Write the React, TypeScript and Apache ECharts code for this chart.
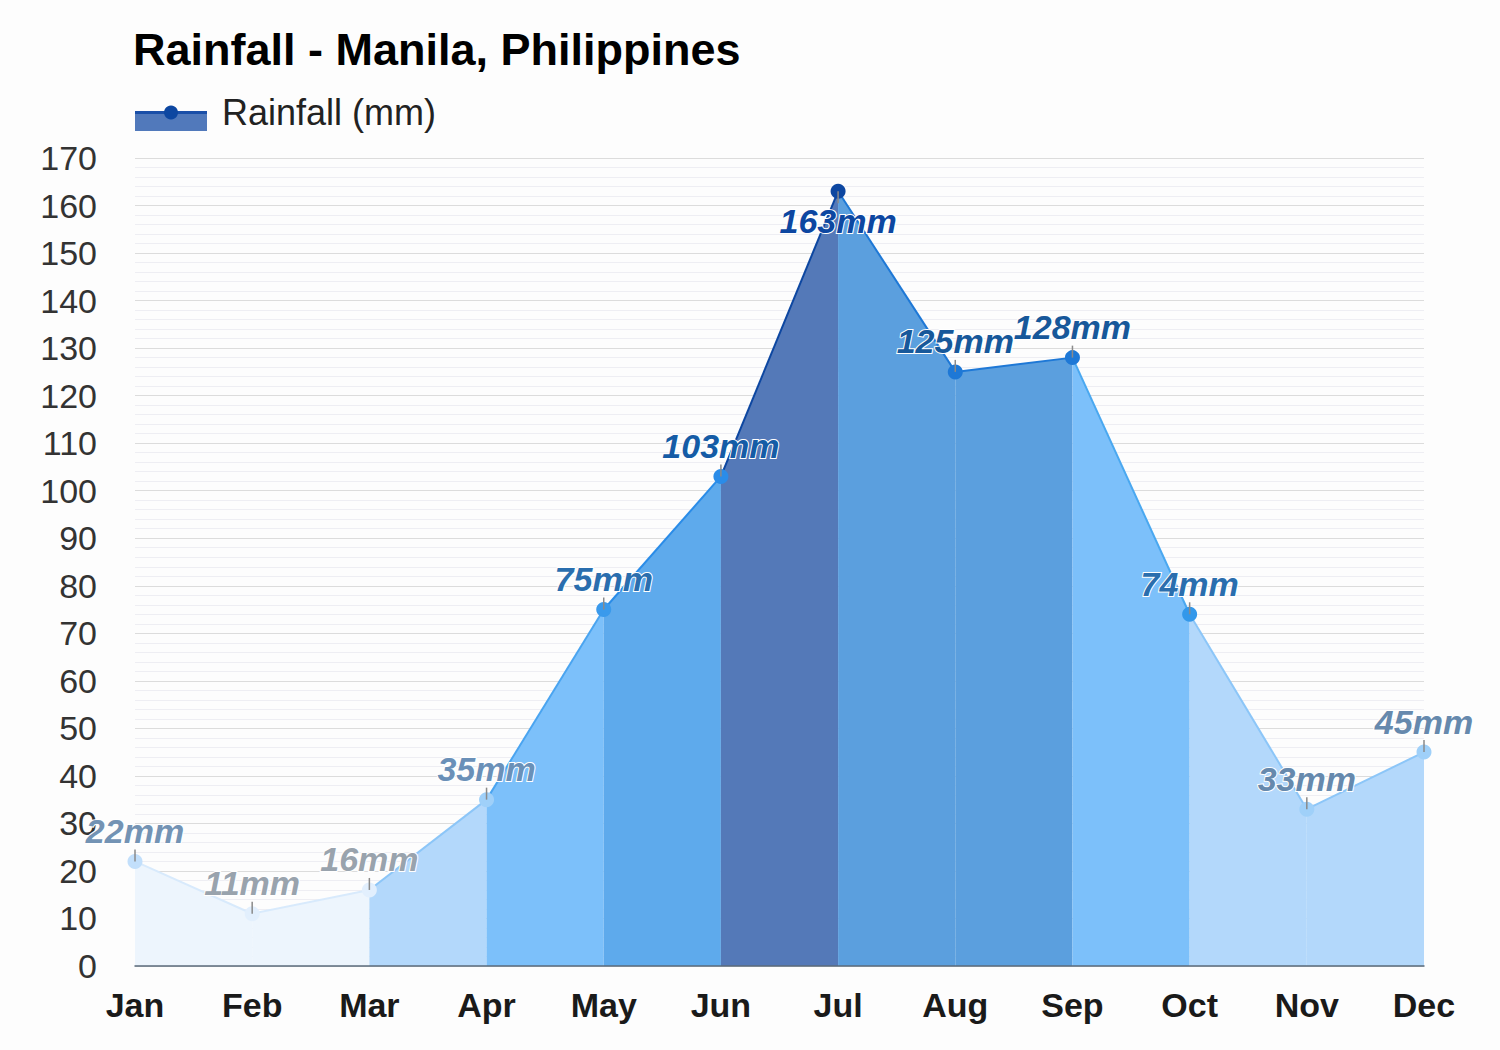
import React, { useEffect, useRef } from "react";
import * as echarts from "echarts";

const months = ["Jan", "Feb", "Mar", "Apr", "May", "Jun", "Jul", "Aug", "Sep", "Oct", "Nov", "Dec"];
const rainfall = [22, 11, 16, 35, 75, 103, 163, 125, 128, 74, 33, 45];
const pointColors = ["#c2dffb", "#e2effd", "#e2effd", "#9fd0f9", "#3a9aec", "#2a8ce8", "#0d47a1", "#1e78d6", "#1e78d6", "#3398ea", "#9fd0f9", "#9fd0f9"];
const labelColors = ["#7393b4", "#99a3ad", "#99a3ad", "#6a90b8", "#2a6eae", "#155ca6", "#0d47a1", "#17589a", "#17589a", "#2a6eae", "#6689ad", "#6689ad"];
// fill of the area segment that ends at each month (index 0 unused)
const segmentFills = ["", "#edf5fd", "#edf5fd", "#b3d8fb", "#7cc0fa", "#5eaaec", "#5479b8", "#5b9fde", "#5b9fde", "#7cc0fa", "#b3d8fb", "#b3d8fb"];
const segmentLines = ["", "#d8eafc", "#d8eafc", "#8cc6f8", "#4aa4f0", "#2a8ce8", "#0d47a1", "#1e78d6", "#1e78d6", "#4aa8f0", "#8cc6f8", "#8cc6f8"];
const yTicks = { min: 0, max: 170, interval: 10 };

const FONT = "Liberation Sans, Arial, sans-serif";

export default function App() {
  const ref = useRef<HTMLDivElement>(null);
  useEffect(() => {
    document.body.style.margin = "0";
    if (!ref.current) return;
    const chart = echarts.init(ref.current, undefined, { renderer: "svg" });
    const maxVal = Math.max(...rainfall);

    const segSeries: any[] = [];
    for (let i = 1; i < rainfall.length; i++) {
      const d = rainfall.map((v, j) => (j === i - 1 || j === i ? v : "-"));
      segSeries.push({
        type: "line",
        data: d,
        symbol: "none",
        silent: true,
        z: 2,
        lineStyle: { color: segmentLines[i], width: 2 },
        areaStyle: { color: segmentFills[i], opacity: 1 },
      });
    }

    const pointData = rainfall.map((v, i) => {
      const below = v === maxVal;
      return {
        value: v,
        itemStyle: { color: pointColors[i], opacity: 1 },
        label: {
          show: true,
          position: below ? "bottom" : "top",
          distance: below ? 5 : 6,
          formatter: v + "mm",
          color: labelColors[i],
          opacity: 1,
          fontSize: 34,
          fontWeight: "bold",
          fontStyle: "italic",
          fontFamily: FONT,
          textBorderColor: "#ffffff",
          textBorderWidth: 2,
        },
      };
    });

    const tickData = rainfall.map((v) => ({
      value: v,
      symbolOffset: [0, v === maxVal ? 6 : -6],
    }));

    chart.setOption({
      animation: false,
      backgroundColor: "#fdfdfd",
      title: {
        text: "Rainfall - Manila, Philippines",
        left: 128,
        top: 22,
        textStyle: { fontSize: 45, fontWeight: "bold", color: "#000", fontFamily: FONT },
      },
      graphic: [
        { type: "rect", shape: { x: 135, y: 113, width: 72, height: 18 }, style: { fill: "#5179bb" } },
        { type: "line", shape: { x1: 135, y1: 112.5, x2: 207, y2: 112.5 }, style: { stroke: "#1a4fa8", lineWidth: 3 } },
        { type: "circle", shape: { cx: 171, cy: 112.5, r: 7 }, style: { fill: "#0d47a1" } },
        {
          type: "text",
          x: 222,
          y: 112,
          style: {
            text: "Rainfall (mm)",
            fontSize: 36,
            fill: "#222",
            fontFamily: FONT,
            verticalAlign: "middle",
          },
        },
      ],
      grid: { left: 135, right: 76, top: 158, bottom: 84 },
      xAxis: {
        type: "category",
        data: months,
        boundaryGap: false,
        axisLine: { lineStyle: { color: "#5b6b7b", width: 1.5 } },
        axisTick: { show: false },
        axisLabel: {
          color: "#1a1a1a",
          fontSize: 34,
          fontWeight: "bold",
          margin: 22,
          fontFamily: FONT,
        },
        splitLine: { show: false },
        z: 10,
      },
      yAxis: {
        type: "value",
        min: yTicks.min,
        max: yTicks.max,
        interval: yTicks.interval,
        axisLine: { show: false },
        axisTick: { show: false },
        axisLabel: {
          color: "#333",
          fontSize: 34,
          margin: 38,
          fontFamily: FONT,
        },
        splitLine: { show: true, lineStyle: { color: "#dcdcdc", width: 1 } },
        minorTick: { show: false, splitNumber: 5 },
        minorSplitLine: { show: true, lineStyle: { color: "#eeeef3", width: 1 } },
      },
      series: [
        ...segSeries,
        {
          type: "scatter",
          data: pointData,
          symbol: "circle",
          symbolSize: 15,
          itemStyle: { opacity: 1 },
          z: 5,
          silent: true,
        },
        {
          type: "scatter",
          data: tickData,
          symbol: "rect",
          symbolSize: [1.5, 12],
          itemStyle: { color: "#8a8a8a", opacity: 1 },
          z: 6,
          silent: true,
        },
      ],
    });
    return () => chart.dispose();
  }, []);
  return <div ref={ref} style={{ width: 1500, height: 1050 }} />;
}
